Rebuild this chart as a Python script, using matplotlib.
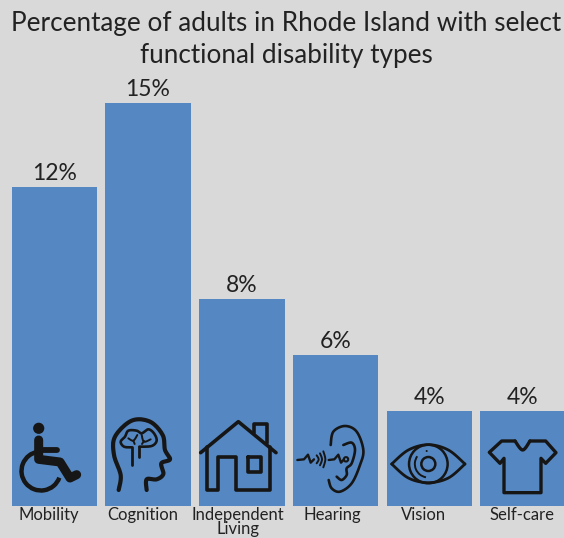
import numpy as np
import matplotlib.pyplot as plt
from matplotlib.patches import Circle, Arc

categories = ['Mobility', 'Cognition', 'Independent\nLiving', 'Hearing', 'Vision', 'Self-care']
values = [12, 15, 8, 6, 4, 4]
title_lines = ['Percentage of adults in Rhode Island with select', 'functional disability types']
label_x = [49, 143, 238, 332, 424, 522]

BG = '#d9d9d9'
BLUE = '#5588c2'
INK = '#222222'
W, H = 564, 538

plt.rcParams['font.family'] = ['Lato', 'DejaVu Sans']

fig = plt.figure(figsize=(W / 100, H / 100), dpi=100, facecolor=BG)

# bars: the axis is cut off above zero, bottom of the axes is pixel row 506
ax = fig.add_axes([0, (H - 506) / H, 1, 506 / H], facecolor=BG)
ax.bar(range(len(values)), values, width=0.912, color=BLUE)
ax.set_xlim(-0.579, 5.437)
ax.set_ylim(0.607, 18.68)
ax.axis('off')
for i, v in enumerate(values):
    ax.text(i, v + 0.1, f'{v}%', ha='center', va='bottom', fontsize=16.5, color=INK)

# overlay in pixel coordinates for title, labels and icons
ov = fig.add_axes([0, 0, 1, 1], facecolor='none')
ov.set_xlim(0, W)
ov.set_ylim(H, 0)
ov.axis('off')

ov.text(286, 24, title_lines[0], ha='center', va='center', fontsize=18.85, color=INK)
ov.text(286, 55, title_lines[1], ha='center', va='center', fontsize=18.85, color=INK)

for c, name in zip(label_x, categories):
    ov.text(c, 507, name, ha='center', va='top', fontsize=12, color=INK, linespacing=0.88)


def zoomed(points, x0, y0=400):
    pts = np.array(points, dtype=float)
    return pts[:, 0] / 3 + x0, pts[:, 1] / 3 + y0


def stroke(points, x0, lw=2.2, closed=False):
    x, y = zoomed(points, x0)
    if closed:
        x, y = np.append(x, x[0]), np.append(y, y[0])
    ov.plot(x, y, color='#161616', lw=lw, solid_capstyle='round', solid_joinstyle='round')


def curve(points, x0, lw=2.2):
    # smooth line through the points (Catmull-Rom)
    pts = np.array(points, dtype=float)
    pts = np.vstack([pts[0], pts, pts[-1]])
    out = []
    for i in range(1, len(pts) - 2):
        p0, p1, p2, p3 = pts[i - 1], pts[i], pts[i + 1], pts[i + 2]
        for t in np.linspace(0, 1, 12):
            out.append(0.5 * (2 * p1 + (p2 - p0) * t + (2 * p0 - 5 * p1 + 4 * p2 - p3) * t ** 2
                              + (3 * p1 - p0 - 3 * p2 + p3) * t ** 3))
    stroke(out, x0, lw)


# wheelchair
ov.add_patch(Circle((38.7, 428.3), 5.6, color='#161616', lw=0))
stroke([(116, 120), (116, 178), (180, 186), (210, 234), (230, 224)], 0, lw=6.5)
stroke([(116, 150), (170, 150)], 0, lw=4.2)
ov.add_patch(Arc((41, 471), 39, 39, theta1=20, theta2=262, color='#161616', lw=3.2))

# head with brain
curve([(356, 270), (362, 225), (342, 165), (345, 110), (395, 62), (450, 65), (488, 105), (495, 150),
       (510, 178), (484, 190), (490, 222), (470, 238), (440, 238), (440, 270)], 0, lw=3)
curve([(395, 142), (372, 140), (362, 125), (375, 110), (385, 92), (410, 92), (425, 100), (445, 88),
       (462, 100), (470, 122), (455, 138), (418, 140)], 0, lw=1.9)
stroke([(395, 142), (395, 195)], 0, lw=2)
stroke([(418, 140), (418, 170)], 0, lw=2)
curve([(385, 115), (400, 122), (412, 105)], 0, lw=1.4)
stroke([(400, 122), (404, 132)], 0, lw=1.4)
curve([(425, 105), (432, 125), (452, 118)], 0, lw=1.4)
stroke([(432, 123), (426, 132)], 0, lw=1.4)

# house
stroke([(602, 158), (715, 65), (828, 158)], 0, lw=2.6)
stroke([(762, 100), (762, 72), (802, 72), (802, 128)], 0, lw=2.6)
stroke([(622, 142), (622, 270), (655, 270), (655, 172), (708, 172), (708, 270), (810, 270), (810, 142)],
       0, lw=2.6)
stroke([(745, 172), (782, 172), (782, 216), (745, 216)], 0, lw=2.6, closed=True)

# ear and sound
x_hear = 280
curve([(152, 135), (160, 95), (195, 78), (230, 95), (250, 150), (240, 195), (215, 250), (180, 275),
       (155, 265), (146, 240)], x_hear, lw=1.9)
curve([(190, 135), (215, 128), (225, 150), (215, 190), (200, 205), (200, 225), (185, 240), (170, 230)],
      x_hear, lw=1.9)
stroke([(52, 180), (72, 178), (84, 164), (92, 188), (102, 178)], x_hear, lw=1.7)
stroke([(146, 180), (163, 178), (175, 164), (183, 188), (192, 178)], x_hear, lw=1.7)
ov.add_patch(Circle((280 + 198 / 3, 400 + 178 / 3), 2.2, fill=False, ec='#161616', lw=1.5))
for r, h in [(110, 12), (120, 18), (130, 24)]:
    curve([(r, 178 - h), (r + 6, 178), (r, 178 + h)], x_hear, lw=1.4)

# eye
curve([(335, 192), (385, 150), (445, 134), (505, 150), (555, 192)], x_hear, lw=2)
curve([(335, 192), (385, 234), (445, 248), (505, 234), (555, 192)], x_hear, lw=2)
ov.add_patch(Circle((280 + 445 / 3, 400 + 192 / 3), 19.3, fill=False, ec='#161616', lw=1.8))
ov.add_patch(Circle((280 + 445 / 3, 400 + 192 / 3), 7, fill=False, ec='#161616', lw=1.8))
ov.add_patch(Arc((280 + 445 / 3, 400 + 192 / 3), 27, 27, theta1=100, theta2=215, color='#161616', lw=1.4))
ov.add_patch(Circle((280 + 440 / 3, 400 + 153 / 3), 1, color='#161616', lw=0))

# t-shirt
curve([(705, 123), (728, 150), (750, 123)], x_hear, lw=2.4)
stroke([(705, 123), (665, 123), (628, 157), (660, 190), (672, 175), (672, 278), (783, 278), (783, 175),
        (797, 190), (828, 158), (797, 123), (750, 123)], x_hear, lw=2.4)

ov.set_xlim(0, W)
ov.set_ylim(H, 0)

fig.savefig('out.png', dpi=100, facecolor=BG)
